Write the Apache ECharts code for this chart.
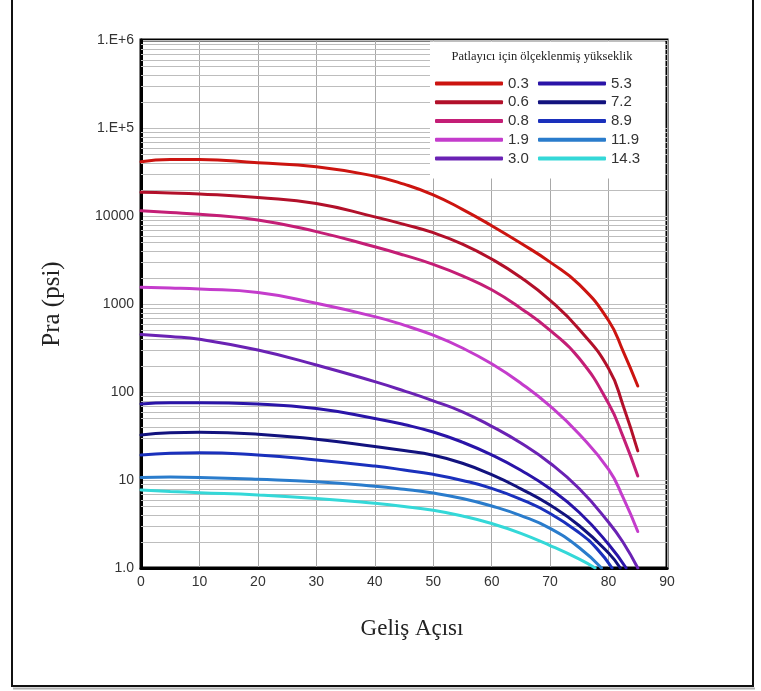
<!DOCTYPE html>
<html>
<head>
<meta charset="utf-8">
<script src="https://cdn.jsdelivr.net/npm/echarts@6/dist/echarts.min.js"></script>
<style>html,body{margin:0;padding:0;background:#fff;}#c{width:761px;height:691px;}</style>
</head>
<body>
<div id="c"></div>
<script>
// ---- data ----
const legendTitle = 'Patlayıcı için ölçeklenmiş yükseklik';
const xTitle = 'Geliş Açısı';
const yTitle = 'Pra (psi)';
const seriesNames = ['0.3', '0.6', '0.8', '1.9', '3.0', '5.3', '7.2', '8.9', '11.9', '14.3'];
const seriesColors = ['#cc1410', '#b2102a', '#c41e76', '#c43ccc', '#6a22b4', '#2a14a8', '#12127e', '#1a30bc', '#2a7ccc', '#34d8d8'];

const anglesA = [0, 5, 10, 20, 30, 40, 45, 50, 55, 60, 65, 70, 75, 80, 82.5, 85];
const p03 = [41400, 44000, 44000, 40300, 36300, 28300, 23000, 17400, 11900, 7760, 4900, 2990, 1660, 650, 290, 117];
const p06 = [18600, 18300, 17800, 16200, 13900, 9770, 8040, 6460, 4790, 3240, 2000, 1100, 513, 185, 70, 21.4];
const p08 = [11500, 10960, 10470, 9020, 6650, 4470, 3590, 2820, 2090, 1450, 891, 501, 240, 74, 30.9, 11.1];
const p19 = [1550, 1520, 1480, 1350, 1020, 718, 575, 442, 316, 209, 126, 69.2, 33.1, 13.2, 6.3, 2.6];
const p30 = [450, 427, 398, 300, 203, 131, 103, 79.4, 59.6, 40.7, 26.3, 15.5, 7.94, 3.31, 1.95, 1.0];

const angles53 = [0, 5, 10, 20, 30, 40, 45, 50, 55, 60, 65, 70, 75, 80, 83];
const p53 = [73.1, 75.5, 75.5, 73.1, 65, 50.1, 42.7, 35.1, 26.9, 19.3, 12.9, 7.94, 4.27, 1.86, 1.0];
const angles72 = [0, 5, 10, 20, 30, 40, 45, 50, 55, 60, 65, 70, 75, 80, 82];
const p72 = [32.5, 34.5, 34.8, 33.2, 29, 24, 21.6, 19.1, 15.5, 11.5, 7.94, 5.19, 3.02, 1.48, 1.0];
const angles89 = [0, 5, 10, 20, 30, 40, 45, 50, 55, 60, 65, 70, 75, 78, 80.6];
const p89 = [19.2, 20.2, 20.4, 19.2, 16.9, 14.4, 13.0, 11.6, 9.89, 8.04, 6.03, 4.17, 2.51, 1.66, 1.0];
const angles119 = [0, 5, 10, 20, 30, 40, 45, 50, 55, 60, 65, 70, 75, 78.8];
const p119 = [10.7, 10.8, 10.7, 10.2, 9.55, 8.51, 7.85, 7.11, 6.17, 5.07, 3.94, 2.82, 1.70, 1.0];
const angles143 = [0, 5, 10, 20, 30, 40, 45, 50, 55, 60, 65, 70, 75, 77.7];
const p143 = [7.69, 7.41, 7.18, 6.76, 6.17, 5.43, 5.01, 4.52, 3.89, 3.20, 2.48, 1.80, 1.26, 1.0];

const xTicks = [0, 10, 20, 30, 40, 50, 60, 70, 80, 90];
const yTickLabels = {1: '1.0', 10: '10', 100: '100', 1000: '1000', 10000: '10000', 100000: '1.E+5', 1000000: '1.E+6'};

const curveAngles = [anglesA, anglesA, anglesA, anglesA, anglesA, angles53, angles72, angles89, angles119, angles143];
const curveValues = [p03, p06, p08, p19, p30, p53, p72, p89, p119, p143];

// minor log grid values (2..9 in each decade)
const minorGrid = [];
for (let d = 1; d < 1e6; d *= 10) { for (let k = 2; k <= 9; k++) minorGrid.push(k * d); }

const chart = echarts.init(document.getElementById('c'), null, {renderer: 'canvas'});

const lineSeries = seriesNames.map((n, i) => ({
  name: n,
  type: 'line',
  smooth: 0.5,
  showSymbol: false,
  symbol: 'none',
  z: 3,
  color: seriesColors[i],
  lineStyle: {width: 3, color: seriesColors[i], cap: 'round'},
  data: curveAngles[i].map((a, j) => [a, curveValues[i][j]])
}));

const gridSeries = {
  name: '_grid',
  type: 'custom',
  z: 1,
  silent: true,
  coordinateSystem: 'cartesian2d',
  encode: {x: 0, y: 1},
  data: minorGrid.map(v => [0, v]),
  renderItem: (params, api) => {
    const v = api.value(1);
    const a = api.coord([0, v]);
    const b = api.coord([90, v]);
    const y = Math.round(a[1]) + 0.5;
    return {type: 'line', shape: {x1: a[0], y1: y, x2: b[0], y2: y}, style: {stroke: '#bdbdbd', lineWidth: 1}};
  }
};

const legendCommon = {
  orient: 'vertical',
  padding: 0,
  itemWidth: 68,
  itemHeight: 4,
  itemGap: 1.75,
  icon: 'roundRect',
  selectedMode: false,
  z: 6,
  textStyle: {fontFamily: 'Liberation Sans, Arial, sans-serif', fontSize: 15, color: '#333', lineHeight: 17}
};

chart.setOption({
  backgroundColor: '#fff',
  animation: false,
  grid: {left: 141, right: 94, top: 40, bottom: 123, show: true, borderColor: '#000', borderWidth: 3, containLabel: false},
  xAxis: {
    type: 'value', min: 0, max: 90, interval: 10,
    name: xTitle, nameLocation: 'middle', nameGap: 49,
    nameTextStyle: {fontFamily: 'Liberation Serif, Times New Roman, serif', fontSize: 23, color: '#222', padding: [0, 0, 0, 16]},
    axisLine: {show: true, lineStyle: {color: '#000', width: 3}},
    axisTick: {show: false},
    axisLabel: {margin: 7, fontFamily: 'Liberation Sans, Arial, sans-serif', fontSize: 14, color: '#333',
      formatter: v => (xTicks.indexOf(v) >= 0 ? String(v) : '')},
    splitLine: {show: true, lineStyle: {color: '#a8a8a8', width: 1}}
  },
  yAxis: {
    type: 'log', logBase: 10, min: 1, max: 1000000,
    name: yTitle, nameLocation: 'middle', nameGap: 76, nameRotate: 90,
    nameTextStyle: {fontFamily: 'Liberation Serif, Times New Roman, serif', fontSize: 25, color: '#222'},
    axisLine: {show: true, lineStyle: {color: '#000', width: 3}},
    axisTick: {show: false},
    axisLabel: {margin: 7, fontFamily: 'Liberation Sans, Arial, sans-serif', fontSize: 14, color: '#333',
      formatter: v => (yTickLabels[Math.round(v)] !== undefined ? yTickLabels[Math.round(v)] : '')},
    splitLine: {show: true, lineStyle: {color: '#bdbdbd', width: 1}}
  },
  legend: [
    Object.assign({}, legendCommon, {left: 435, top: 75, data: seriesNames.slice(0, 5)}),
    Object.assign({}, legendCommon, {left: 538, top: 75, data: seriesNames.slice(5)})
  ],
  graphic: [
    {type: 'rect', z: 4, silent: true, shape: {x: 430, y: 41.5, width: 235, height: 137}, style: {fill: '#fff'}},
    {type: 'text', z: 6, silent: true, x: 542, y: 57,
      style: {text: legendTitle, font: '12.5px "Liberation Serif", "Times New Roman", serif', fill: '#222', textAlign: 'center', textVerticalAlign: 'middle'}},
    {type: 'rect', z: 10, silent: true, shape: {x: 12, y: -4, width: 741, height: 690}, style: {fill: null, stroke: '#111', lineWidth: 2}},
    {type: 'line', z: 9, silent: true, shape: {x1: 13, y1: 688.5, x2: 755, y2: 688.5}, style: {stroke: '#b0b0b0', lineWidth: 2}}
  ],
  series: [gridSeries].concat(lineSeries)
});
</script>
</body>
</html>
